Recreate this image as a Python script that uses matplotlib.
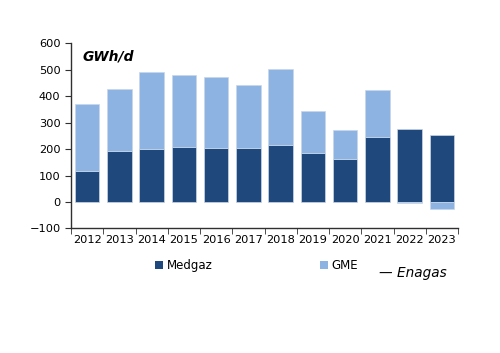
import matplotlib
matplotlib.use("Agg")
import matplotlib.pyplot as plt
import numpy as np
from matplotlib.patches import Patch

years = ["2012", "2013", "2014", "2015", "2016", "2017", "2018", "2019", "2020", "2021", "2022", "2023"]
medgaz = [119, 192, 200, 208, 206, 205, 217, 186, 164, 244, 277, 255]
gme = [250, 234, 292, 273, 267, 237, 288, 158, 110, 179, -5, -25]

dark = "#1F497D"
light = "#8DB3E2"

plt.rcParams['font.family'] = ['DejaVu Sans']
fig = plt.figure(figsize=(5, 3.53), dpi=100)
ax = fig.add_axes([0.142, 0.353, 0.774, 0.524])

x = np.arange(len(years))
medgaz_a = np.array(medgaz)
gme_a = np.array(gme)
ax.bar(x, medgaz_a, width=0.76, color=dark, edgecolor="#c9d6e8", linewidth=0.5, zorder=2)
gme_bottom = np.where(gme_a >= 0, medgaz_a, 0)
ax.bar(x, gme_a, bottom=gme_bottom, width=0.76, color=light, edgecolor="#c9d6e8", linewidth=0.5, zorder=2)

ax.set_xlim(-0.5, len(years) - 0.5)
ax.set_ylim(-100, 600)
ax.set_yticks(range(-100, 601, 100))
ax.set_xticks(x)
ax.set_xticklabels(years)
ax.set_xticks(np.arange(-0.5, len(years), 1), minor=True)
ax.tick_params(axis='x', which='major', length=0, labelsize=8.2, pad=5)
ax.tick_params(axis='x', which='minor', length=4, direction='out', color="#303030")
ax.tick_params(axis='y', length=4, direction='out', labelsize=8.2, color="#303030")
for s in ["top", "right"]:
    ax.spines[s].set_visible(False)
for s in ["left", "bottom"]:
    ax.spines[s].set_color("#303030")
    ax.spines[s].set_linewidth(1.0)

ax.text(0.03, 0.965, "GWh/d", transform=ax.transAxes, fontsize=10, fontstyle='italic',
        fontweight='bold', ha='left', va='top')

handles = [Patch(facecolor=dark, label="Medgaz"), Patch(facecolor=light, label="GME")]
fig.legend(handles=handles, loc='center', bbox_to_anchor=(0.513, 0.248), ncol=2, frameon=False,
           fontsize=8.5, handlelength=0.7, handleheight=0.7, handletextpad=0.3, columnspacing=9.1)
fig.text(0.758, 0.228, "— Enagas", fontsize=9.8, fontstyle='italic', ha='left', va='center')

fig.savefig("out.png", dpi=100)
